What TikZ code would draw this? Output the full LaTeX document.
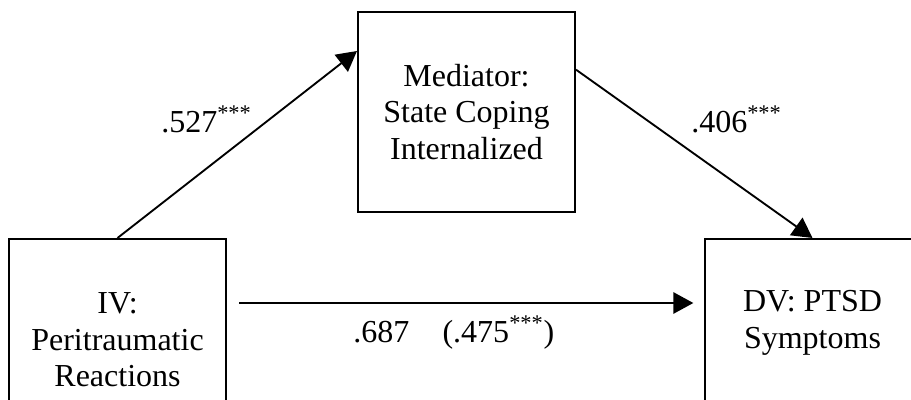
\documentclass[tikz,border=0pt]{standalone}
\usepackage{fontspec}
\setmainfont{Liberation Serif}
\usetikzlibrary{arrows.meta, calc}
\tikzset{
  varbox/.style={
    draw, line width=1.5pt, align=center, inner sep=0pt,
    font=\fontsize{24}{27.5}\selectfont, fill=white
  },
  patharrow/.style={-{Triangle[length=15pt, width=16pt]}, line width=1.4pt},
  coeflabel/.style={anchor=base west, inner sep=0pt, font=\fontsize{24}{27.5}\selectfont},
}
\begin{document}
\begin{tikzpicture}[x=0.75pt, y=0.75pt]
  \useasboundingbox (0,0) rectangle (911,400);

  % Variables
  \node[varbox, minimum width=162.75pt, minimum height=150pt] (med) at (466.5,288) {Mediator:\\State Coping\\Internalized};
  \node[varbox, minimum width=162.75pt, minimum height=151.5pt] (iv) at (117.5,60) {IV:\\Peritraumatic\\Reactions};
  \node[varbox, minimum width=161.25pt, minimum height=126pt] (dv) at (812.5,77) {DV: PTSD\\Symptoms};

  % Paths
  \draw[patharrow] (iv.north) -- ([yshift=-30pt]med.north west);
  \draw[patharrow] ([yshift=-44pt]med.north east) -- (dv.north);
  \draw[patharrow, shorten <=9pt, shorten >=8pt] ([yshift=27.75pt]iv.east) -- ([yshift=27.75pt]iv.east -| dv.west);

  % Coefficients
  \node[coeflabel] (coefa) at (161,267) {.527\textsuperscript{***}};
  \node[coeflabel] (coefb) at (691,267) {.406\textsuperscript{***}};
  \node[coeflabel] (coefc) at (353,57) {.687\hspace{25pt}(.475\textsuperscript{***})};
\end{tikzpicture}
\end{document}
